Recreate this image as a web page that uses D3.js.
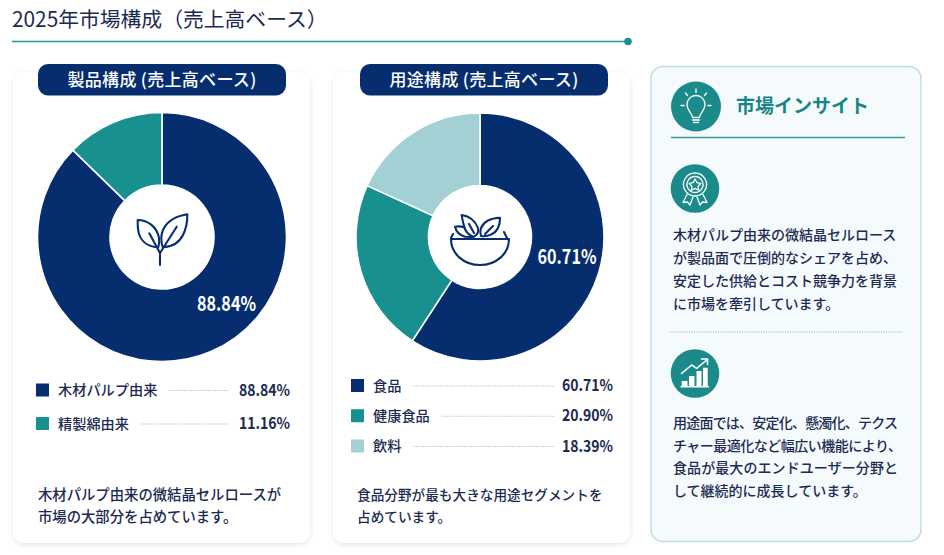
<!DOCTYPE html>
<html lang="ja">
<head>
<meta charset="utf-8">
<title>2025年市場構成</title>
<script src="https://cdn.jsdelivr.net/npm/d3@7"></script>
<style>
  html, body { margin: 0; padding: 0; background: #fff; }
  svg { display: block; }
  text { font-family: "Noto Sans CJK JP", "Noto Sans", sans-serif; }
</style>
</head>
<body>
<svg id="chart" width="944" height="555"></svg>
<script>
// printed percentages
const productLabels = ['木材パルプ由来', '精製綿由来'];
const productValues = [88.84, 11.16];
const usageLabels = ['食品', '健康食品', '飲料'];
const usageValues = [60.71, 20.90, 18.39];

// slice sizes as measured on the picture, the drawn wedges do not follow the printed numbers exactly
const productSlices = [87.3, 12.7];
const usageSlices = [59.2, 22.6, 18.2];

const navy = '#062e6f', teal = '#17908f', pale = '#a2d0d5', ink = '#1c2a52', tealDark = '#15858a';
const sliceColor = d3.scaleOrdinal([0, 1, 2], [navy, teal, pale]);

const svg = d3.select('#chart');

const defs = svg.append('defs');
const shadow = defs.append('filter').attr('id', 'cardShadow')
  .attr('x', '-5%').attr('y', '-5%').attr('width', '110%').attr('height', '110%');
shadow.append('feDropShadow')
  .attr('dx', 0).attr('dy', 1.5).attr('stdDeviation', 2.5)
  .attr('flood-color', '#7a8794').attr('flood-opacity', 0.22);

// header
svg.append('text').text('2025年市場構成（売上高ベース）')
  .attr('x', 12).attr('y', 27)
  .attr('font-size', 20.8).attr('fill', ink);
svg.append('line')
  .attr('x1', 12).attr('x2', 628).attr('y1', 41.5).attr('y2', 41.5)
  .attr('stroke', '#1f9a9c').attr('stroke-width', 1.6);
svg.append('circle').attr('cx', 628).attr('cy', 41.5).attr('r', 3.8).attr('fill', '#1a8f92');

function drawPanel(o) {
  const g = svg.append('g');

  g.append('rect')
    .attr('x', o.x).attr('y', 72).attr('width', 297).attr('height', 471).attr('rx', 11)
    .attr('fill', '#fff').attr('filter', 'url(#cardShadow)');

  g.append('rect')
    .attr('x', o.pillX).attr('y', 64).attr('width', 248).attr('height', 31.5).attr('rx', 10)
    .attr('fill', navy);
  g.append('text').text(o.title)
    .attr('x', o.pillX + 124).attr('y', 86)
    .attr('text-anchor', 'middle').attr('font-size', 17).attr('font-weight', 500)
    .attr('letter-spacing', 0.3)
    .attr('fill', '#fff');

  // donut
  const pie = d3.pie().sort(null);
  const arc = d3.arc().innerRadius(o.inner).outerRadius(o.outer);
  const donut = g.append('g').attr('transform', `translate(${o.cx},${o.cy})`);
  donut.selectAll('path')
    .data(pie(o.slices))
    .enter().append('path')
    .attr('d', arc)
    .attr('fill', (d, i) => sliceColor(i))
    .attr('stroke', '#fff').attr('stroke-width', 1.6);
  donut.append('circle').attr('r', o.inner).attr('fill', '#fff');

  g.append('text').text(o.values[0].toFixed(2) + '%')
    .attr('x', o.labelX).attr('y', o.labelY)
    .attr('text-anchor', 'middle').attr('font-size', 20).attr('font-weight', 700)
    .attr('textLength', 59).attr('lengthAdjust', 'spacingAndGlyphs')
    .attr('fill', '#fff');

  // legend
  const rowY = d3.scalePoint().domain(o.labels).range(o.legendY);
  const rows = g.selectAll('g.row').data(o.labels).enter().append('g').attr('class', 'row');
  rows.append('rect')
    .attr('x', o.x + o.swatchDx).attr('y', d => rowY(d) - 6.5)
    .attr('width', 13).attr('height', 13)
    .attr('fill', (d, i) => sliceColor(i));
  const names = rows.append('text').text(d => d)
    .attr('x', o.x + o.swatchDx + 22).attr('y', d => rowY(d) + 5)
    .attr('font-size', 14.2).attr('font-weight', 500)
    .attr('fill', ink);
  rows.append('line')
    .attr('x1', function (d, i) { return o.x + o.swatchDx + 22 + names.nodes()[i].getComputedTextLength() + 12; })
    .attr('x2', o.x + o.leaderEnd)
    .attr('y1', d => rowY(d) + 0.5).attr('y2', d => rowY(d) + 0.5)
    .attr('stroke', '#a9afb8').attr('stroke-width', 1).attr('stroke-dasharray', '1 1.4');
  rows.append('text').text((d, i) => o.values[i].toFixed(2) + '%')
    .attr('x', o.x + o.valueEnd).attr('y', d => rowY(d) + 5.5)
    .attr('text-anchor', 'end').attr('font-size', 16).attr('font-weight', 700)
    .attr('textLength', 51).attr('lengthAdjust', 'spacingAndGlyphs')
    .attr('fill', ink);

  // note under the legend
  g.selectAll('text.note').data(o.note).enter().append('text').attr('class', 'note')
    .text(d => d)
    .attr('x', o.noteX).attr('y', (d, i) => 500 + i * 22)
    .attr('font-size', o.noteSize).attr('font-weight', 500).attr('fill', ink);

  return g;
}

const leftPanel = drawPanel({
  x: 13, pillX: 38, title: '製品構成 (売上高ベース)',
  cx: 162, cy: 237, outer: 124.5, inner: 52,
  slices: productSlices, values: productValues, labels: productLabels,
  labelX: 226.5, labelY: 311,
  legendY: [390, 423.5], swatchDx: 23, leaderEnd: 216, valueEnd: 277,
  note: ['木材パルプ由来の微結晶セルロースが', '市場の大部分を占めています。'], noteX: 38, noteSize: 14.35
});

const midPanel = drawPanel({
  x: 333, pillX: 360, title: '用途構成 (売上高ベース)',
  cx: 480, cy: 237, outer: 124, inner: 51.5,
  slices: usageSlices, values: usageValues, labels: usageLabels,
  labelX: 567, labelY: 264,
  legendY: [385.5, 446], swatchDx: 18, leaderEnd: 222, valueEnd: 280,
  note: ['食品分野が最も大きな用途セグメントを', '占めています。'], noteX: 357, noteSize: 13.65
});

// line icons, drawn around their own centre
function icon(parent, x, y, color, width, paths) {
  const g = parent.append('g').attr('transform', `translate(${x},${y})`)
    .attr('fill', 'none').attr('stroke', color).attr('stroke-width', width)
    .attr('stroke-linecap', 'round').attr('stroke-linejoin', 'round');
  paths.forEach(p => g.append('path').attr('d', p));
  return g;
}

icon(leftPanel, 161, 237, navy, 2.1, [
  'M-23.3,-17 C-13,-17 -4,-10 -2,1 C-1.5,5 -2,8 -2.7,10.3 C-11,10 -19,6 -22,-3 C-23.5,-8 -23.5,-13 -23.3,-17Z',
  'M26.3,-22.7 C16,-21 6,-16 2,-7 C-0.5,-1 0,5 1.7,10.3 C10,10 18,6 22,-2 C25,-8 26.5,-15 26.3,-22.7Z',
  'M-1,28 V16 L-11.7,-3.7',
  'M-1,16 L15.7,-10.3'
]);

icon(midPanel, 480, 237, navy, 2.1, [
  'M-29,2 H29 C29,17 16,28 0,28 C-16,28 -29,17 -29,2Z',
  'M20,-19.3 C12,-19 4,-16 1,-9 C0,-6 0,-4 1,-1 C8,0 15,-3 18,-9 C19.5,-12 20,-16 20,-19.3Z',
  'M5,-3 L13,-11',
  'M-18.3,-22 C-12,-21 -5,-17 -2,-9 C-1,-5 -3,-2 -6.7,0 C-11,-2 -15,-6 -16,-11 C-17,-15 -18,-19 -18.3,-22Z',
  'M-25,-10.3 C-21,-11 -18,-10.5 -15.5,-9.5 M-25,-10.3 C-24,-6 -21,-2 -15,-0.3 L-8,0',
  'M-11,-13 L-6,-4',
  'M24,-5 L27,1 M-27,-3 L-29,1'
]);

// insight card
const side = svg.append('g');
side.append('rect')
  .attr('x', 651).attr('y', 66.5).attr('width', 270).attr('height', 475).attr('rx', 12)
  .attr('fill', '#f5fbfd').attr('stroke', '#bcdde2').attr('stroke-width', 1.4);

const badgeFill = '#1a8a8b';
side.append('circle').attr('cx', 696).attr('cy', 106.5).attr('r', 25).attr('fill', badgeFill);
side.append('text').text('市場インサイト')
  .attr('x', 736).attr('y', 113)
  .attr('font-size', 19).attr('font-weight', 700).attr('fill', tealDark);
side.append('line')
  .attr('x1', 671).attr('x2', 905).attr('y1', 137.5).attr('y2', 137.5)
  .attr('stroke', '#3a9c9f').attr('stroke-width', 1.4);

icon(side, 696, 106.5, '#fff', 1.3, [
  'M-3.5,11 C-3.5,7 -9,4 -9,-2 C-9,-7 -5,-11 0,-11 C5,-11 9,-7 9,-2 C9,4 3.5,7 3.5,11Z',
  'M-3.5,13.5 H3.5 M-2.5,16 H2.5',
  'M0,-17.5 V-14 M-10.5,-13.5 L-8.5,-11 M10.5,-13.5 L8.5,-11 M-15,-1 H-12 M15,-1 H12'
]);

side.append('circle').attr('cx', 695).attr('cy', 188.5).attr('r', 24.3).attr('fill', badgeFill);
icon(side, 695, 188.5, '#fff', 1.3, [
  'M0,-15.5 A11.5,11.5 0 1,1 -0.01,-15.5Z',
  'M0,-12 A8,8 0 1,1 -0.01,-12Z',
  'M0,-9.5 L1.9,-5.9 L5.9,-5.2 L3.1,-2.3 L3.7,1.7 L0,-0.1 L-3.7,1.7 L-3.1,-2.3 L-5.9,-5.2 L-1.9,-5.9Z',
  'M-8,6 L-12,14 L-7.5,13.5 L-5,16.5 L-2,8.5',
  'M8,6 L12,14 L7.5,13.5 L5,16.5 L2,8.5'
]);

const firstText = ['木材パルプ由来の微結晶セルロース', 'が製品面で圧倒的なシェアを占め、', '安定した供給とコスト競争力を背景', 'に市場を牽引しています。'];
const secondText = ['用途面では、安定化、懸濁化、テクス', 'チャー最適化など幅広い機能により、', '食品が最大のエンドユーザー分野と', 'して継続的に成長しています。'];

side.selectAll('text.first').data(firstText).enter().append('text').attr('class', 'first')
  .text(d => d)
  .attr('x', 673).attr('y', (d, i) => 240 + i * 23)
  .attr('font-size', 14).attr('font-weight', 500).attr('fill', ink);

side.append('line')
  .attr('x1', 670).attr('x2', 903).attr('y1', 332).attr('y2', 332)
  .attr('stroke', '#7fb4ba').attr('stroke-width', 1).attr('stroke-dasharray', '1 1.4');

side.append('circle').attr('cx', 695).attr('cy', 373.5).attr('r', 24.3).attr('fill', badgeFill);
const growth = side.append('g').attr('transform', 'translate(695,373.5)');
growth.append('path').attr('fill', '#fff')
  .attr('d', 'M-13.3,7.5 H-7.5 V13 H-13.3Z M-6,2.5 H-0.5 V13 H-6Z M1.5,-2.5 H6.5 V13 H1.5Z M8,-5.8 H12.7 V13 H8Z M-14.5,12.6 H14 V14 H-14.5Z');
icon(side, 695, 373.5, '#fff', 1.6, [
  'M-13.5,-0.2 L-3.3,-8.5 L1.7,-5.2 L11.7,-13.5',
  'M6.5,-14.5 L12.5,-14.5 L12.5,-9'
]);

// the first line of the second block sets its commas tight, the others are nudged to the same edges
const secondWidths = [225, 229, 225, 0];
side.selectAll('text.second').data(secondText).enter().append('text').attr('class', 'second')
  .text(d => d)
  .attr('x', 673).attr('y', (d, i) => 428 + i * 22.7)
  .attr('textLength', (d, i) => secondWidths[i] || null)
  .attr('font-size', 14).attr('font-weight', 500).attr('fill', ink);
</script>
</body>
</html>
